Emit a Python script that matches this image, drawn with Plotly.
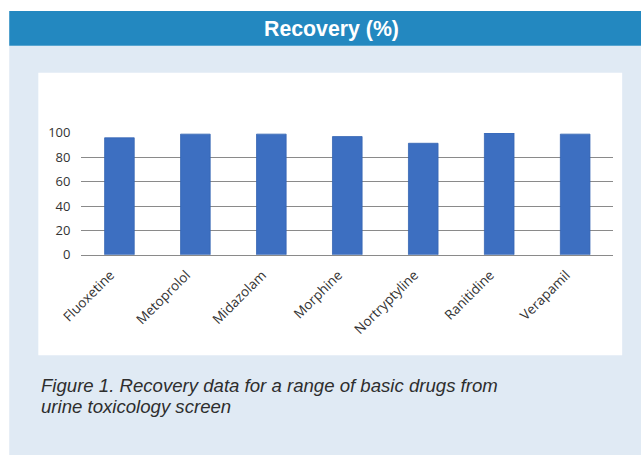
import plotly.graph_objects as go

drugs = ["Fluoxetine", "Metoprolol", "Midazolam", "Morphine", "Nortryptyline", "Ranitidine", "Verapamil"]
recovery = [96, 99, 99, 97, 91.5, 100, 99]
y_ticks = [0, 20, 40, 60, 80, 100]
title_text = "Recovery (%)"
caption_lines = ["Figure 1. Recovery data for a range of basic drugs from", "urine toxicology screen"]

W, H = 641, 455

# the photographed page shows the figure inset and slightly scaled;
# map target photo pixels to figure pixels
def tx(p):
    return (p - 19) / 0.97 - 4 * (1 - p / W)

def ty(p):
    return (p - 8) / 0.965

def px(x):
    return x / W

def py(y):
    return 1 - y / H

fig = go.Figure()
fig.add_trace(go.Bar(
    x=drugs, y=recovery,
    marker=dict(color="#3d6fc1", line=dict(color="#3565b3", width=0.8)),
    width=0.39, cliponaxis=False,
))

shapes = [
    dict(type="rect", xref="paper", yref="paper", x0=px(tx(11)), x1=1.0, y0=-0.05, y1=py(ty(45)),
         fillcolor="#e0eaf4", line=dict(width=0), layer="below"),
    dict(type="rect", xref="paper", yref="paper", x0=px(tx(11)), x1=1.0, y0=py(ty(45)), y1=py(ty(10)),
         fillcolor="#2388c0", line=dict(width=0), layer="below"),
    dict(type="rect", xref="paper", yref="paper", x0=px(tx(40)), x1=px(tx(622)), y0=py(ty(356)), y1=py(ty(72)),
         fillcolor="#ffffff", line=dict(width=0), layer="below"),
]

annotations = [
    dict(text="<b>" + title_text + "</b>", xref="paper", yref="paper", x=px(tx(332)), y=py(ty(28)),
         xanchor="center", yanchor="middle", showarrow=False,
         font=dict(family="Liberation Sans, Arial", size=21.3, color="#ffffff")),
    dict(text="<i>" + caption_lines[0] + "</i>", xref="paper", yref="paper", x=px(tx(41)), y=py(ty(386.5)),
         xanchor="left", yanchor="middle", showarrow=False,
         font=dict(family="Liberation Sans, Arial", size=18.6, color="#2e2e2e")),
    dict(text="<i>" + caption_lines[1] + "</i>", xref="paper", yref="paper", x=px(tx(41)), y=py(ty(407)),
         xanchor="left", yanchor="middle", showarrow=False,
         font=dict(family="Liberation Sans, Arial", size=18.6, color="#2e2e2e")),
]

fig.update_layout(
    width=W, height=H,
    margin=dict(l=0, r=0, t=0, b=0),
    paper_bgcolor="#ffffff",
    plot_bgcolor="rgba(0,0,0,0)",
    showlegend=False,
    shapes=shapes,
    annotations=annotations,
    xaxis=dict(domain=[px(tx(83)), px(tx(613))], showgrid=False, showline=True, linecolor="#8a8a8a",
               linewidth=1, tickangle=-45, ticks="", ticklabelstandoff=6, ticklabelshift=-9,
               tickfont=dict(family="Open Sans, Liberation Sans", size=13.5, color="#333333"),
               fixedrange=True),
    yaxis=dict(domain=[py(ty(255)), py(ty(132.5))], range=[0, 100], tickvals=y_ticks,
               showgrid=True, gridcolor="#8a8a8a", gridwidth=1, zeroline=False,
               showline=False, ticks="", ticklabelstandoff=10,
               tickfont=dict(family="Open Sans, Liberation Sans", size=13, color="#333333"),
               fixedrange=True),
)

fig.write_html("out.html", config={"displayModeBar": False},
               post_script="document.body.style.margin='0';document.body.style.overflow='hidden';")
